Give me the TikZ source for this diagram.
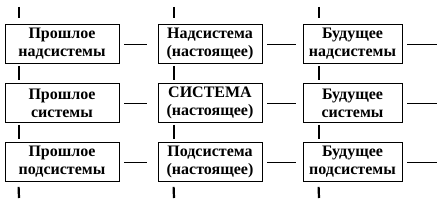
\documentclass[tikz,border=0pt]{standalone}
\usepackage{fontspec}
\setmainfont{Liberation Serif}
\usetikzlibrary{positioning,calc}

\begin{document}
\begin{tikzpicture}[
    x=1pt, y=-1pt,
    stage/.style={rectangle, draw=black, fill=white, line width=0.8pt,
                  minimum height=39pt, align=center, inner sep=0pt,
                  font=\fontsize{16}{18}\selectfont\bfseries},
    timeline/.style={line width=2.2pt, draw=black},
    link/.style={line width=0.8pt, draw=black, shorten <=5pt, shorten >=11pt}
]
\useasboundingbox (0,0) rectangle (444,203);

% past
\node[stage, minimum width=114pt] (p1) at (62,44)  {Прошлое\\надсистемы};
\node[stage, minimum width=114pt] (p2) at (62,103) {Прошлое\\системы};
\node[stage, minimum width=114pt] (p3) at (62,162) {Прошлое\\подсистемы};

% present
\node[stage, minimum width=104pt] (n1) at (210,44)  {Надсистема\\(настоящее)};
\node[stage, minimum width=104pt] (n2) at (210,103) {СИСТЕМА\\(настоящее)};
\node[stage, minimum width=104pt] (n3) at (210,162) {Подсистема\\(настоящее)};

% future
\node[stage, minimum width=99pt] (f1) at (352.5,44)  {Будущее\\надсистемы};
\node[stage, minimum width=99pt] (f2) at (352.5,103) {Будущее\\системы};
\node[stage, minimum width=99pt] (f3) at (352.5,162) {Будущее\\подсистемы};

% free ends
\foreach \c/\x in {p/19, n/174, f/319} {
    \coordinate (\c top) at (\x,7);
    \coordinate (\c bot) at (\x,198);
}
\foreach \r/\y in {1/44, 2/103, 3/162}
    \coordinate (end\r) at (442,\y);

% vertical lines
\foreach \c/\dx in {p/14, n/16, f/16} {
    \draw[timeline] (\c top) -- ($(\c top)+(0,11)$);
    \draw[timeline] ([xshift=\dx pt, yshift=-2pt]\c1.south west) -- ([xshift=\dx pt, yshift=3pt]\c2.north west);
    \draw[timeline] ([xshift=\dx pt, yshift=-2pt]\c2.south west) -- ([xshift=\dx pt, yshift=3pt]\c3.north west);
    \draw[timeline] ([xshift=\dx pt, yshift=-5pt]\c3.south west) -- (\c bot);
}

% horizontal links
\foreach \r in {1,2,3} {
    \draw[link] (p\r.east) -- (n\r.west);
    \draw[link, shorten >=7pt] (n\r.east) -- (f\r.west);
    \draw[link, shorten >=5pt] (f\r.east) -- (end\r);
}

\end{tikzpicture}
\end{document}
